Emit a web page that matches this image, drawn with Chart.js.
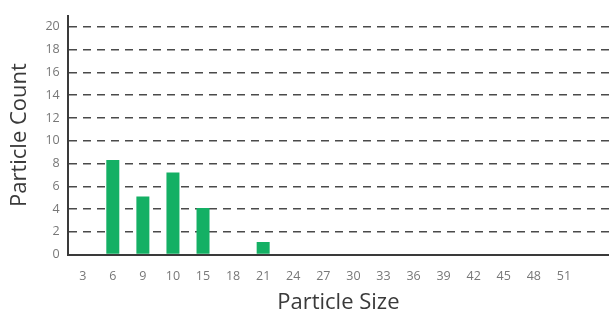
<!DOCTYPE html>
<html>
<head>
<meta charset="utf-8">
<script src="https://cdn.jsdelivr.net/npm/chart.js@4"></script>
<style>
  html, body { margin: 0; padding: 0; background: #fff; overflow: hidden; }
</style>
</head>
<body>
<canvas id="chart" width="609" height="318"></canvas>
<script>
// Particle sizes on the x axis (last slot is left empty)
const sizes = ['3', '6', '9', '10', '15', '18', '21', '24', '27', '30', '33', '36', '39', '42', '45', '48', '51', ''];
// Particle counts for each size
const counts = [0, 8.3, 5.1, 7.2, 4.1, 0, 1.1, 0, 0, 0, 0, 0, 0, 0, 0, 0, 0, 0];
// Y axis tick values
const countTicks = [0, 2, 4, 6, 8, 10, 12, 14, 16, 18, 20];

const ctx = document.getElementById('chart').getContext('2d');

new Chart(ctx, {
    type: 'bar',
    data: {
        labels: sizes,
        datasets: [{
            data: counts,
            backgroundColor: '#14b064',
            barPercentage: 0.9,
            categoryPercentage: 0.48
        }]
    },
    options: {
        responsive: false,
        animation: false,
        layout: { padding: { top: 8, right: 0, left: 7, bottom: 2 } },
        plugins: {
            legend: { display: false },
            tooltip: { enabled: false }
        },
        scales: {
            x: {
                grid: { display: false },
                border: { color: '#3a3a3a', width: 2 },
                ticks: {
                    color: '#777',
                    font: { family: 'Open Sans', size: 12.5 },
                    padding: 6,
                    maxRotation: 0,
                    autoSkip: false
                },
                title: {
                    display: true,
                    text: 'Particle Size',
                    color: '#3a3a3a',
                    font: { family: 'Open Sans', size: 22 },
                    padding: { top: 0, bottom: 0 }
                }
            },
            y: {
                min: 0,
                max: 21,
                afterBuildTicks: axis => {
                    axis.ticks = countTicks.map(v => ({ value: v }));
                },
                ticks: {
                    color: '#777',
                    font: { family: 'Open Sans', size: 12.5 },
                    padding: 8
                },
                grid: {
                    color: '#4a4a4a',
                    lineWidth: 1.5,
                    drawTicks: false
                },
                border: { color: '#3a3a3a', width: 2, dash: [8, 6] },
                title: {
                    display: true,
                    text: 'Particle Count',
                    color: '#3a3a3a',
                    font: { family: 'Open Sans', size: 22 },
                    padding: { top: 0, bottom: 4 }
                }
            }
        }
    }
});
</script>
</body>
</html>
